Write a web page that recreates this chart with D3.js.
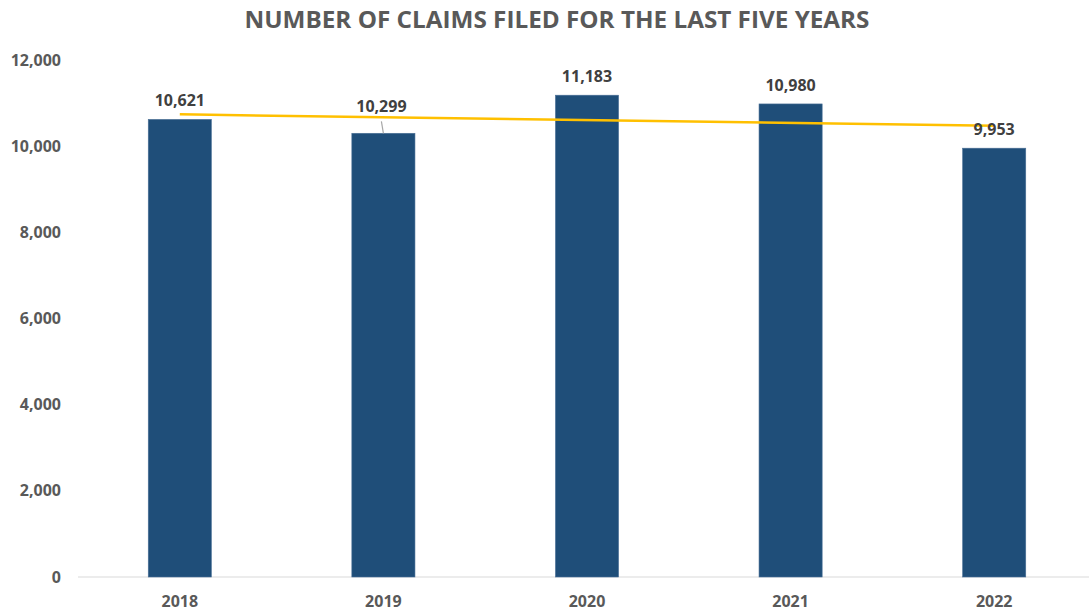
<!DOCTYPE html>
<html>
<head>
    <script src="https://d3js.org/d3.v7.min.js"></script>
    <style>
        body { margin: 0; background: #fff; }
        text { font-family: "Open Sans", sans-serif; font-weight: bold; }
        .tick-label { fill: #595959; font-size: 16px; }
        .bar-label { fill: #404040; font-size: 16px; }
        .bar { fill: #1F4E79; stroke: #4a6f96; stroke-width: 0.6; }
        .trend { stroke: #FFC000; stroke-width: 2.5; fill: none; }
    </style>
</head>
<body>
    <svg width="1089" height="611"></svg>
    <script>
        const years = ['2018', '2019', '2020', '2021', '2022'];
        const claims = [10621, 10299, 11183, 10980, 9953];
        const yTicks = [0, 2000, 4000, 6000, 8000, 10000, 12000];
        // label nudges (px) where excel moved the label
        const labelLift = [0, 8, 0, 0, 0];

        const data = years.map((y, i) => ({year: y, value: claims[i], lift: labelLift[i]}));

        const svg = d3.select('svg');

        const x = d3.scaleBand()
            .domain(years)
            .range([78, 1096])
            .paddingInner(0.69)
            .paddingOuter(0.345);

        const y = d3.scaleLinear()
            .domain([0, 12000])
            .range([577, 60]);

        svg.append('text')
            .attr('x', 557)
            .attr('y', 28)
            .attr('text-anchor', 'middle')
            .attr('textLength', 625)
            .attr('lengthAdjust', 'spacingAndGlyphs')
            .style('font-size', '24px')
            .style('fill', '#595959')
            .text('NUMBER OF CLAIMS FILED FOR THE LAST FIVE YEARS');

        // y tick labels, no axis line
        svg.selectAll('.ytick')
            .data(yTicks)
            .enter()
            .append('text')
            .attr('class', 'tick-label')
            .attr('x', 61)
            .attr('y', d => y(d))
            .attr('dy', '0.35em')
            .attr('text-anchor', 'end')
            .text(d => d3.format(',')(d));

        svg.append('line')
            .attr('x1', 78).attr('x2', 1089)
            .attr('y1', y(0)).attr('y2', y(0))
            .attr('stroke', '#d9d9d9')
            .attr('stroke-width', 1.2);

        svg.selectAll('.bar')
            .data(data)
            .enter()
            .append('rect')
            .attr('class', 'bar')
            .attr('x', d => x(d.year))
            .attr('width', x.bandwidth())
            .attr('y', d => y(d.value))
            .attr('height', d => y(0) - y(d.value));

        svg.selectAll('.xlabel')
            .data(years)
            .enter()
            .append('text')
            .attr('class', 'tick-label')
            .attr('x', d => x(d) + x.bandwidth() / 2)
            .attr('y', 607)
            .attr('text-anchor', 'middle')
            .text(d => d);

        // linear trendline (least squares)
        const n = claims.length;
        const mx = d3.mean(claims, (d, i) => i);
        const my = d3.mean(claims);
        const slope = d3.sum(claims, (d, i) => (i - mx) * (d - my)) / d3.sum(claims, (d, i) => (i - mx) ** 2);
        const trend = years.map((yr, i) => ({year: yr, value: my + slope * (i - mx)}));

        const line = d3.line()
            .x(d => x(d.year) + x.bandwidth() / 2)
            .y(d => y(d.value));

        svg.append('path')
            .datum([trend[0], trend[n - 1]])
            .attr('class', 'trend')
            .attr('d', line);

        // leader lines for moved labels
        svg.selectAll('.leader')
            .data(data.filter(d => d.lift > 0))
            .enter()
            .append('line')
            .attr('x1', d => x(d.year) + x.bandwidth() / 2 - 2)
            .attr('y1', d => y(d.value) - 12)
            .attr('x2', d => x(d.year) + x.bandwidth() / 2)
            .attr('y2', d => y(d.value))
            .attr('stroke', '#a6a6a6')
            .attr('stroke-width', 1.2);

        svg.selectAll('.bar-label')
            .data(data)
            .enter()
            .append('text')
            .attr('class', 'bar-label')
            .attr('x', d => x(d.year) + x.bandwidth() / 2 - (d.lift ? 2 : 0))
            .attr('y', d => y(d.value) - 19 - d.lift)
            .attr('dy', '0.35em')
            .attr('text-anchor', 'middle')
            .text(d => d3.format(',')(d.value));
    </script>
</body>
</html>
